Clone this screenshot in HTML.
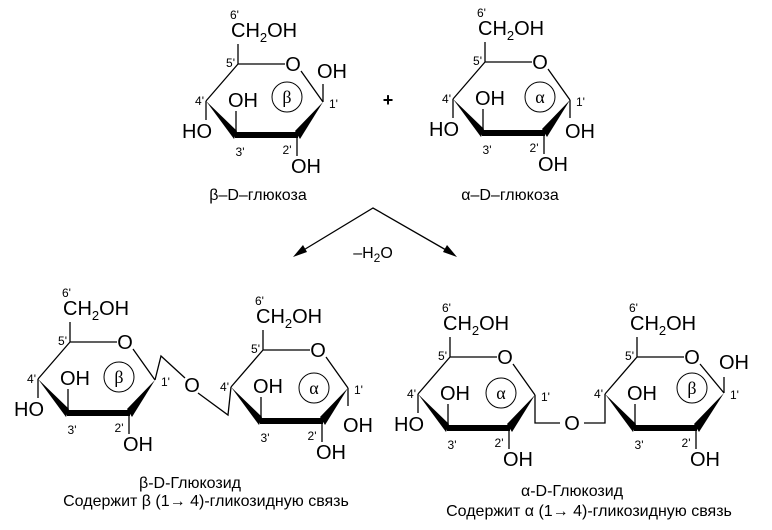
<!DOCTYPE html>
<html><head><meta charset="utf-8"><style>
html,body{margin:0;padding:0;background:#fff;}
svg{display:block;}
text{font-family:"Liberation Sans",sans-serif;fill:#000;}
.b{font-size:20px;}
.n{font-size:12px;}
.g{font-family:"Liberation Serif",serif;font-size:18px;}
.c{font-size:16px;}
</style></head><body>
<svg width="772" height="530" viewBox="0 0 772 530" xmlns="http://www.w3.org/2000/svg">

<!-- Top beta -->
<g transform="translate(238,64)">
<path d="M0,0 L47,0 M63,7 L85,38 M0,0 L-32,37 M0,0 V-20 M-2,71 V47 M59,71 V92 M-32,37 V56 M85,38 V20" stroke="#000" stroke-width="1.3" fill="none"/>
<polygon points="-32,37 -1,67 -4,75" fill="#000"/><polygon points="-3,68 60,68 60,74 -3,74" fill="#000"/><polygon points="57,67 62,75 85,38" fill="#000"/>
<circle cx="49" cy="33" r="15" fill="none" stroke="#000" stroke-width="1"/>
<text class="g" x="49" y="39" text-anchor="middle">β</text>
<text class="b" x="55" y="7" text-anchor="middle">O</text>
<text class="b" x="-7" y="-27">CH<tspan font-size="13" dy="5">2</tspan><tspan dy="-5">OH</tspan></text>
<text class="n" x="-8" y="-45">6'</text><text class="n" x="-3" y="3" text-anchor="end">5'</text>
<text class="n" x="-34" y="41" text-anchor="end">4'</text><text class="n" x="91" y="44">1'</text>
<text class="n" x="2" y="92" text-anchor="middle">3'</text><text class="n" x="49" y="90" text-anchor="middle">2'</text>
<text class="b" x="-10" y="43">OH</text><text class="b" x="53" y="109">OH</text>
<text class="b" x="-56" y="74">HO</text><text class="b" x="79" y="14">OH</text>
</g>

<!-- Top alpha -->
<g transform="translate(485,62)">
<path d="M0,0 L47,0 M63,7 L85,38 M0,0 L-32,37 M0,0 V-20 M-2,71 V47 M59,71 V92 M-32,37 V56 M85,38 V56" stroke="#000" stroke-width="1.3" fill="none"/>
<polygon points="-32,37 -1,67 -4,75" fill="#000"/><polygon points="-3,68 60,68 60,74 -3,74" fill="#000"/><polygon points="57,67 62,75 85,38" fill="#000"/>
<circle cx="55" cy="35" r="15" fill="none" stroke="#000" stroke-width="1"/>
<text class="g" x="55" y="41" text-anchor="middle">α</text>
<text class="b" x="55" y="7" text-anchor="middle">O</text>
<text class="b" x="-7" y="-27">CH<tspan font-size="13" dy="5">2</tspan><tspan dy="-5">OH</tspan></text>
<text class="n" x="-8" y="-45">6'</text><text class="n" x="-3" y="3" text-anchor="end">5'</text>
<text class="n" x="-34" y="41" text-anchor="end">4'</text><text class="n" x="91" y="44">1'</text>
<text class="n" x="2" y="92" text-anchor="middle">3'</text><text class="n" x="49" y="90" text-anchor="middle">2'</text>
<text class="b" x="-10" y="43">OH</text><text class="b" x="53" y="109">OH</text>
<text class="b" x="-56" y="74">HO</text><text class="b" x="80" y="76">OH</text>
</g>

<text x="388" y="106" font-size="18" text-anchor="middle" font-weight="bold">+</text>
<text class="c" x="258" y="200" text-anchor="middle">β–D–глюкоза</text>
<text class="c" x="510" y="200" text-anchor="middle">α–D–глюкоза</text>

<path d="M297,254 L373,208 L453,254" stroke="#000" stroke-width="1.3" fill="none"/>
<polygon points="293,257 303,245 307,252" fill="#000"/>
<polygon points="457,257 443,252 447,245" fill="#000"/>
<text class="c" x="373" y="258" text-anchor="middle">–H<tspan font-size="12" dy="4">2</tspan><tspan dy="-4">O</tspan></text>

<!-- Bottom-left beta -->
<g transform="translate(70,342)">
<path d="M0,0 L47,0 M63,7 L85,38 M0,0 L-32,37 M0,0 V-20 M-2,71 V47 M59,71 V92 M-32,37 V56" stroke="#000" stroke-width="1.3" fill="none"/>
<polygon points="-32,37 -1,67 -4,75" fill="#000"/><polygon points="-3,68 60,68 60,74 -3,74" fill="#000"/><polygon points="57,67 62,75 85,38" fill="#000"/>
<circle cx="49" cy="35" r="15" fill="none" stroke="#000" stroke-width="1"/>
<text class="g" x="49" y="41" text-anchor="middle">β</text>
<text class="b" x="55" y="7" text-anchor="middle">O</text>
<text class="b" x="-7" y="-27">CH<tspan font-size="13" dy="5">2</tspan><tspan dy="-5">OH</tspan></text>
<text class="n" x="-8" y="-45">6'</text><text class="n" x="-3" y="3" text-anchor="end">5'</text>
<text class="n" x="-34" y="41" text-anchor="end">4'</text><text class="n" x="91" y="44">1'</text>
<text class="n" x="2" y="92" text-anchor="middle">3'</text><text class="n" x="49" y="90" text-anchor="middle">2'</text>
<text class="b" x="-10" y="43">OH</text><text class="b" x="53" y="109">OH</text>
<text class="b" x="-56" y="74">HO</text>
</g>
<path d="M155,380 L161,356 L185,378 M198,393 L228,415 L231,387" stroke="#000" stroke-width="1.3" fill="none"/>
<text class="b" x="192" y="392" text-anchor="middle">O</text>

<!-- Bottom-left alpha -->
<g transform="translate(263,350)">
<path d="M0,0 L47,0 M63,7 L85,38 M0,0 L-32,37 M0,0 V-20 M-2,71 V47 M59,71 V92 M85,38 V56" stroke="#000" stroke-width="1.3" fill="none"/>
<polygon points="-32,37 -1,67 -4,75" fill="#000"/><polygon points="-3,68 60,68 60,74 -3,74" fill="#000"/><polygon points="57,67 62,75 85,38" fill="#000"/>
<circle cx="51" cy="38" r="15" fill="none" stroke="#000" stroke-width="1"/>
<text class="g" x="51" y="44" text-anchor="middle">α</text>
<text class="b" x="55" y="7" text-anchor="middle">O</text>
<text class="b" x="-7" y="-27">CH<tspan font-size="13" dy="5">2</tspan><tspan dy="-5">OH</tspan></text>
<text class="n" x="-8" y="-45">6'</text><text class="n" x="-3" y="3" text-anchor="end">5'</text>
<text class="n" x="-34" y="41" text-anchor="end">4'</text><text class="n" x="91" y="44">1'</text>
<text class="n" x="2" y="92" text-anchor="middle">3'</text><text class="n" x="49" y="90" text-anchor="middle">2'</text>
<text class="b" x="-10" y="43">OH</text><text class="b" x="53" y="109">OH</text>
<text class="b" x="80" y="82">OH</text>
</g>

<!-- Bottom-right alpha -->
<g transform="translate(450,357)">
<path d="M0,0 L47,0 M63,7 L85,38 M0,0 L-32,37 M0,0 V-20 M-2,71 V47 M59,71 V92 M-32,37 V56" stroke="#000" stroke-width="1.3" fill="none"/>
<polygon points="-32,37 -1,67 -4,75" fill="#000"/><polygon points="-3,68 60,68 60,74 -3,74" fill="#000"/><polygon points="57,67 62,75 85,38" fill="#000"/>
<circle cx="51" cy="36" r="15" fill="none" stroke="#000" stroke-width="1"/>
<text class="g" x="51" y="42" text-anchor="middle">α</text>
<text class="b" x="55" y="7" text-anchor="middle">O</text>
<text class="b" x="-7" y="-27">CH<tspan font-size="13" dy="5">2</tspan><tspan dy="-5">OH</tspan></text>
<text class="n" x="-8" y="-45">6'</text><text class="n" x="-3" y="3" text-anchor="end">5'</text>
<text class="n" x="-34" y="41" text-anchor="end">4'</text><text class="n" x="91" y="44">1'</text>
<text class="n" x="2" y="92" text-anchor="middle">3'</text><text class="n" x="49" y="90" text-anchor="middle">2'</text>
<text class="b" x="-10" y="43">OH</text><text class="b" x="53" y="109">OH</text>
<text class="b" x="-56" y="74">HO</text>
</g>
<path d="M535,395 V423 H560 M584,423 H605 V394" stroke="#000" stroke-width="1.3" fill="none"/>
<text class="b" x="572" y="430" text-anchor="middle">O</text>

<!-- Bottom-right beta -->
<g transform="translate(637,357)">
<path d="M0,0 L47,0 M63,7 L87,36 M0,0 L-32,37 M0,0 V-20 M-2,71 V47 M59,71 V92 M87,36 V20" stroke="#000" stroke-width="1.3" fill="none"/>
<polygon points="-32,37 -1,67 -4,75" fill="#000"/><polygon points="-3,68 60,68 60,74 -3,74" fill="#000"/><polygon points="57,67 62,75 87,36" fill="#000"/>
<circle cx="55" cy="31" r="15" fill="none" stroke="#000" stroke-width="1"/>
<text class="g" x="55" y="37" text-anchor="middle">β</text>
<text class="b" x="55" y="7" text-anchor="middle">O</text>
<text class="b" x="-7" y="-27">CH<tspan font-size="13" dy="5">2</tspan><tspan dy="-5">OH</tspan></text>
<text class="n" x="-8" y="-45">6'</text><text class="n" x="-3" y="3" text-anchor="end">5'</text>
<text class="n" x="-34" y="41" text-anchor="end">4'</text><text class="n" x="93" y="42">1'</text>
<text class="n" x="2" y="92" text-anchor="middle">3'</text><text class="n" x="49" y="90" text-anchor="middle">2'</text>
<text class="b" x="-10" y="43">OH</text><text class="b" x="53" y="109">OH</text>
<text class="b" x="82" y="12">OH</text>
</g>

<text class="c" x="190" y="488" text-anchor="middle">β-D-Глюкозид</text>
<text class="c" x="206" y="506" text-anchor="middle">Содержит β (1→ 4)-гликозидную связь</text>
<text class="c" x="572" y="496" text-anchor="middle">α-D-Глюкозид</text>
<text class="c" x="589" y="516" text-anchor="middle">Содержит α (1→ 4)-гликозидную связь</text>
</svg>
</body></html>
